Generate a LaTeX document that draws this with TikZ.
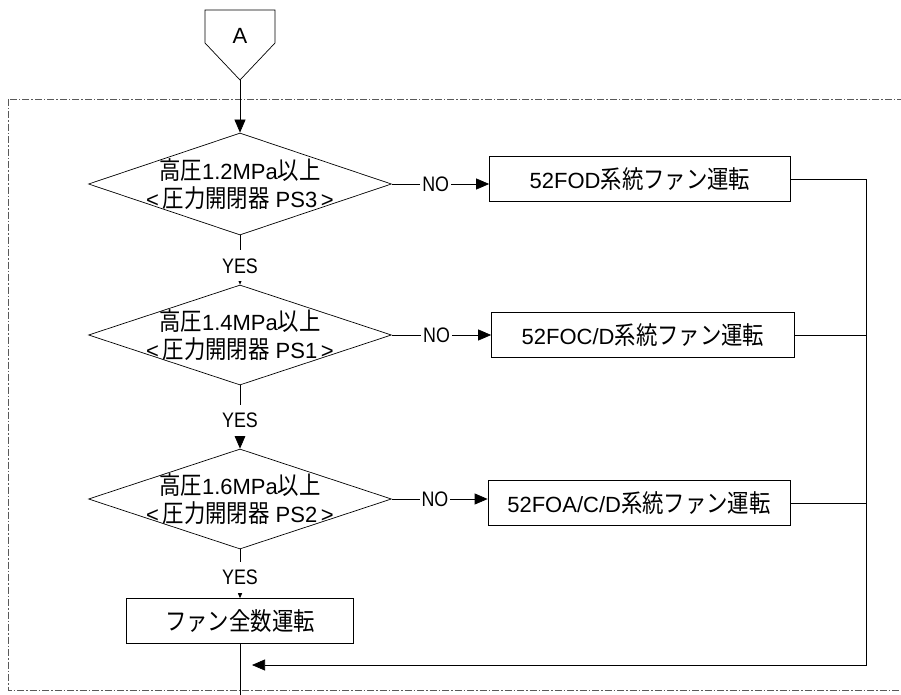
\documentclass[tikz,border=0pt]{standalone}
\usepackage{fontspec}
\setmainfont{Liberation Sans}
\newfontfamily\cjk[FakeStretch=0.86,Scale=1.13]{Noto Sans CJK JP}
\newfontfamily\narrowfont[FakeStretch=0.85]{Liberation Sans}
\newcommand{\J}[1]{{\cjk #1}}
\newcommand{\lowtxt}[1]{\raisebox{-2.5pt}{#1}}
\usetikzlibrary{shapes.geometric,arrows.meta}
\begin{document}
\begin{tikzpicture}[x=1pt,y=-1pt,
  line/.style={draw=black,line width=0.7pt},
  arr/.style={line,-{Triangle[length=13pt,width=11pt]}},
  dia/.style={diamond,draw,line width=0.7pt,inner sep=0pt,minimum width=303pt,minimum height=102pt},
  box/.style={rectangle,draw,line width=0.7pt,minimum height=45pt,inner sep=0pt,font=\fontsize{22}{24}\selectfont},
  dtext/.style={align=center,inner sep=0pt,font=\fontsize{22}{28}\selectfont},
  yeslab/.style={fill=white,inner xsep=1pt,inner ysep=8pt,font=\narrowfont\fontsize{21}{22}\selectfont},
  nolab/.style={fill=white,inner xsep=2pt,inner ysep=2pt,font=\narrowfont\fontsize{21}{22}\selectfont},
  frame/.style={draw=black!65,line width=0.7pt,dash pattern=on 7pt off 2pt on 1.5pt off 2pt}
]
\useasboundingbox (0,0) rectangle (901,695);
\draw[frame] (8,99) rectangle (915,690);

% entry connector A
\draw[line] (205,10) -- (275,10) -- (275,43) -- (240,80) -- (205,43) -- cycle;
\node[font=\fontsize{22}{24}\selectfont] (Alab) at (240,36) {A};
\coordinate (atip) at (240,80);

% decisions
\node[dia] (d1) at (240,184) {};
\node[dtext] (t1) at (d1.center) {\J{高圧}1.2MPa\J{以上}\\<\,\J{圧力開閉器} PS3\,>};
\node[dia,minimum height=100pt] (d2) at (240,335) {};
\node[dtext] (t2) at (d2.center) {\J{高圧}1.4MPa\J{以上}\\<\,\J{圧力開閉器} PS1\,>};
\node[dia,minimum height=100pt] (d3) at (240,499) {};
\node[dtext] (t3) at (d3.center) {\J{高圧}1.6MPa\J{以上}\\<\,\J{圧力開閉器} PS2\,>};

% actions
\node[box,minimum width=301pt] (b1) at (640,179) {\lowtxt{52FOD\J{系統ファン運転}}};
\node[box,minimum width=303pt] (b2) at (643,335) {\lowtxt{52FOC/D\J{系統ファン運転}}};
\node[box,minimum width=302pt] (b3) at (639,503) {\lowtxt{52FOA/C/D\J{系統ファン運転}}};
\node[box,minimum width=227pt] (b4) at (240,621) {\lowtxt{\J{ファン全数運転}}};

\coordinate (rb) at (866,665);
\coordinate (ret) at (252,665);
\coordinate (bot) at (240,700);

% connectors
\draw[arr] (atip) -- (d1.north);
\draw[arr] (d1.south) -- node[yeslab,pos=0.62] (y1) {YES} (d2.north);
\draw[arr] (d2.south) -- node[yeslab,pos=0.55] (y2) {YES} (d3.north);
\draw[arr] (d3.south) -- node[yeslab,pos=0.57] (y3) {YES} (b4.north);

\draw[arr] (d1.east) -- node[nolab,pos=0.45] (n1) {NO} (d1.east -| b1.west);
\draw[arr] (d2.east) -- node[nolab,pos=0.45] (n2) {NO} (d2.east -| b2.west);
\draw[arr] (d3.east) -- node[nolab,pos=0.45] (n3) {NO} (d3.east -| b3.west);

\draw[arr] (b1.east) -| (rb) -- (ret);
\draw[line] (b2.east) -- (b2.east -| rb);
\draw[line] (b3.east) -- (b3.east -| rb);
\draw[line] (b4.south) -- (bot);
\end{tikzpicture}
\end{document}
